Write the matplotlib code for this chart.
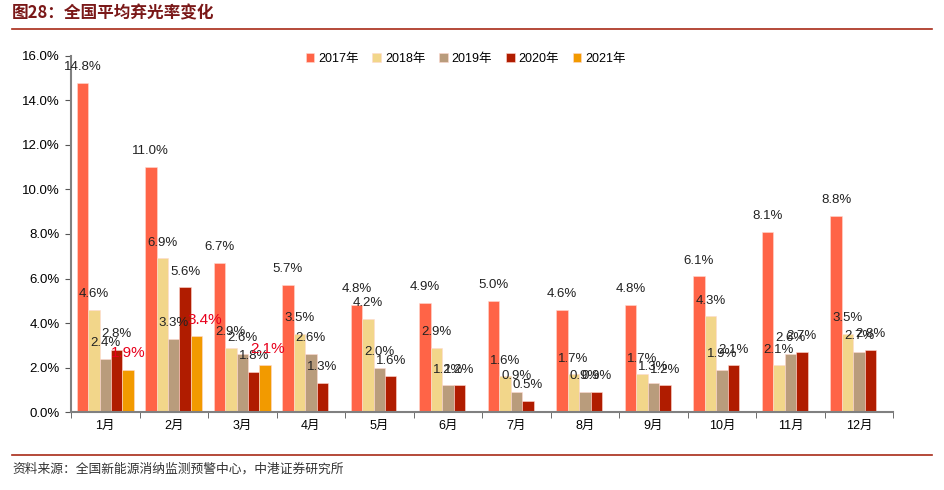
import numpy as np
import matplotlib
matplotlib.use("Agg")
import matplotlib.pyplot as plt
from matplotlib.ticker import MultipleLocator, FuncFormatter

plt.rcParams["font.family"] = ["Liberation Sans", "Noto Sans CJK SC", "DejaVu Sans"]

months = ["1月", "2月", "3月", "4月", "5月", "6月", "7月", "8月", "9月", "10月", "11月", "12月"]
years = ["2017年", "2018年", "2019年", "2020年", "2021年"]
rate_2017 = [14.8, 11.0, 6.7, 5.7, 4.8, 4.9, 5.0, 4.6, 4.8, 6.1, 8.1, 8.8]
rate_2018 = [4.6, 6.9, 2.9, 3.5, 4.2, 2.9, 1.6, 1.7, 1.7, 4.3, 2.1, 3.5]
rate_2019 = [2.4, 3.3, 2.6, 2.6, 2.0, 1.2, 0.9, 0.9, 1.3, 1.9, 2.6, 2.7]
rate_2020 = [2.8, 5.6, 1.8, 1.3, 1.6, 1.2, 0.5, 0.9, 1.2, 2.1, 2.7, 2.8]
rate_2021 = [1.9, 3.4, 2.1]

series = [rate_2017, rate_2018, rate_2019, rate_2020, rate_2021]
colors = ["#FF6447", "#F2D68A", "#B99C7C", "#B01C00", "#F29A00"]
label_colors = ["#222222", "#222222", "#222222", "#222222", "#E8001C"]
label_sizes = [9.5, 9.5, 9.5, 9.5, 11]
# 2021 labels were nudged sideways in the original
label_shift_2021 = [0, 6, 2]

fig = plt.figure(figsize=(9.44, 4.9), dpi=100)
ax = fig.add_axes([0.0752, 0.159, 0.871, 0.727])

x = np.arange(len(months))
width = 0.167
for i, (vals, name) in enumerate(zip(series, years)):
    pos = x[:len(vals)] + (i - 2) * width
    ax.bar(pos, vals, width=width, color=colors[i], edgecolor="#FFD9D0", linewidth=0.4, label=name)
    for j, (px, v) in enumerate(zip(pos, vals)):
        dx = label_shift_2021[j] if i == 4 else 0
        ax.annotate(f"{v:.1f}%", (px, v), xytext=(dx, 7), textcoords="offset points",
                    ha="center", va="bottom", fontsize=label_sizes[i], color=label_colors[i])

ax.set_xlim(-0.5, len(months) - 0.5)
ax.set_ylim(0, 16)
ax.yaxis.set_major_locator(MultipleLocator(2))
ax.yaxis.set_major_formatter(FuncFormatter(lambda v, _: f"{v:.1f}%"))
ax.set_xticks(x)
ax.set_xticklabels(months)
ax.set_xticks(np.arange(-0.5, len(months)), minor=True)
ax.tick_params(axis="x", which="major", length=0, pad=6, labelsize=9)
ax.tick_params(axis="x", which="minor", length=4, color="#555555", direction="out")
ax.tick_params(axis="y", length=4, color="#555555", labelsize=9.5, pad=4)

for side in ["top", "right"]:
    ax.spines[side].set_visible(False)
for side in ["left", "bottom"]:
    ax.spines[side].set_color("#808080")
    ax.spines[side].set_linewidth(1.5)

ax.legend(loc="upper center", bbox_to_anchor=(0.48, 1.04), ncol=5, frameon=False,
          fontsize=9, handlelength=0.7, handleheight=0.7, handletextpad=0.3, columnspacing=1.1)

fig.text(0.013, 0.972, "图28：全国平均弃光率变化", fontsize=12, fontweight="bold",
         color="#7A1818", va="center", family=["Noto Sans CJK SC"])
fig.add_artist(plt.Line2D([0.013, 0.987], [0.941, 0.941], color="#A82A18", linewidth=1.2))
fig.add_artist(plt.Line2D([0.013, 0.987], [0.071, 0.071], color="#A82A18", linewidth=1.2))
fig.text(0.013, 0.043, "资料来源：全国新能源消纳监测预警中心，中港证券研究所", fontsize=9.2,
         color="#333333", va="center", family=["Noto Sans CJK SC"])

fig.savefig("out.png", dpi=100)
